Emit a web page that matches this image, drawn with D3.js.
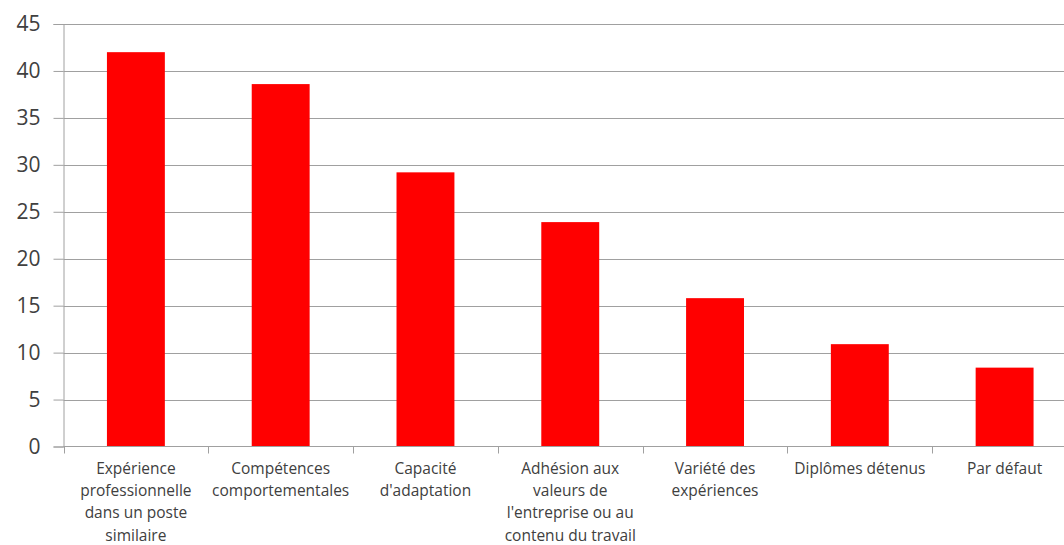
<!DOCTYPE html>
<html>
  <head>
    <meta charset="utf-8" />
    <title>bar chart</title>
    <script src="https://cdn.jsdelivr.net/npm/d3@7"></script>
    <style type="text/css">
      body { margin: 0; background: #fff; }
      text { font-family: "Open Sans", "Liberation Sans", sans-serif; fill: #404040; }
    </style>
  </head>

  <body>
    <svg id="chart" width="1064" height="545"></svg>
    <script type="text/javascript">
      // categories (\n = line break as in the picture)
      var categories = [
        'Expérience\nprofessionnelle\ndans un poste\nsimilaire',
        'Compétences\ncomportementales',
        'Capacité\nd\'adaptation',
        'Adhésion aux\nvaleurs de\nl\'entreprise ou au\ncontenu du travail',
        'Variété des\nexpériences',
        'Diplômes détenus',
        'Par défaut'
      ];
      var values = [42.0, 38.6, 29.2, 23.9, 15.8, 10.9, 8.4];
      var yTicks = [0, 5, 10, 15, 20, 25, 30, 35, 40, 45];

      function draw() {
        var svg = d3.select('#chart');
        var mLeft = 63.5, mRight = 1077, mTop = 24, mBottom = 446.5;

        var x = d3.scaleBand()
          .domain(categories)
          .range([mLeft, mRight])
          .paddingInner(0.6)
          .paddingOuter(0.3);

        var y = d3.scaleLinear().domain([0, 45]).range([mBottom, mTop]);

        // gridlines (drawn first, bars go over them)
        svg.append('g').selectAll('line')
          .data(yTicks.filter(d => d > 0))
          .enter().append('line')
          .attr('x1', mLeft).attr('x2', 1064)
          .attr('y1', d => Math.round(y(d)) + 0.5)
          .attr('y2', d => Math.round(y(d)) + 0.5)
          .attr('stroke', '#a0a0a0');

        // y axis
        var yAxis = d3.axisLeft(y).tickValues(yTicks).tickSize(10).tickPadding(13);
        var gy = svg.append('g').attr('transform', 'translate(' + mLeft + ',0)').call(yAxis);
        gy.select('.domain').attr('stroke', '#a0a0a0');
        gy.selectAll('.tick line').attr('stroke', '#a0a0a0');
        gy.selectAll('.tick text')
          .attr('font-size', 21)
          .attr('font-family', '"Open Sans", sans-serif')
          .attr('fill', '#404040');

        // bars
        svg.append('g').selectAll('rect')
          .data(values)
          .enter().append('rect')
          .attr('x', (d, i) => x(categories[i]))
          .attr('width', x.bandwidth())
          .attr('y', d => y(d))
          .attr('height', d => mBottom - y(d))
          .attr('fill', '#ff0000');

        // x axis
        var bounds = d3.range(categories.length + 1).map(i => mLeft + i * x.step());
        var gx = svg.append('g');
        gx.append('line')
          .attr('x1', mLeft).attr('x2', 1064)
          .attr('y1', mBottom).attr('y2', mBottom)
          .attr('stroke', '#a0a0a0');
        gx.selectAll('.xt').data(bounds).enter().append('line')
          .attr('x1', d => Math.round(d) + 0.5).attr('x2', d => Math.round(d) + 0.5)
          .attr('y1', mBottom).attr('y2', mBottom + 7)
          .attr('stroke', '#a0a0a0');

        categories.forEach(function (c, i) {
          var cx = x(c) + x.bandwidth() / 2;
          var t = gx.append('text')
            .attr('text-anchor', 'middle')
            .attr('font-size', 15.5)
            .attr('fill', '#404040');
          c.split('\n').forEach(function (line, j) {
            t.append('tspan').attr('x', cx).attr('y', 473.5 + j * 22.4).text(line);
          });
        });
      }
      draw();
    </script>
  </body>
</html>
